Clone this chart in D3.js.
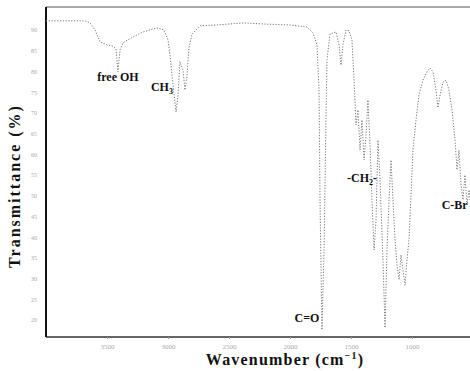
<!DOCTYPE html>
<html>
<head>
<meta charset="utf-8">
<script src="https://cdn.jsdelivr.net/npm/d3@7"></script>
<style>
  body { margin: 0; background: #fff; }
  svg { display: block; }
</style>
</head>
<body>
<svg id="chart" width="470" height="371"></svg>
<script>
// wavenumber (cm-1) and transmittance (%)
const wavenumbers = [4000, 3680, 3639, 3598, 3557, 3500, 3451, 3426, 3410, 3393, 3369, 3287, 3205, 3090,
    3033, 3000, 2984, 2959, 2934, 2918, 2902, 2877, 2861, 2844, 2828, 2803, 2738, 2598, 2385, 2188,
    2000, 1861, 1811, 1779, 1762, 1754, 1738, 1721, 1705, 1697, 1672, 1623, 1598, 1582, 1566, 1541,
    1516, 1492, 1475, 1459, 1443, 1426, 1410, 1393, 1377, 1361, 1344, 1328, 1311, 1295, 1279, 1262,
    1238, 1221, 1205, 1188, 1172, 1156, 1139, 1123, 1106, 1090, 1074, 1057, 1041, 1025, 1008, 992,
    967, 943, 910, 877, 852, 828, 803, 787, 770, 746, 721, 697, 672, 647, 631, 615, 598, 582, 566,
    549, 533, 525];
const transmittance = [92.2, 92.2, 91.7, 90.0, 87.1, 86.4, 86.1, 85.4, 79.9, 85.2, 86.9, 88.3, 89.5, 90.5,
    90.0, 87.6, 84.0, 76.7, 70.2, 74.3, 82.3, 80.3, 75.5, 79.1, 85.7, 89.0, 91.0, 91.2, 91.7, 91.4,
    91.2, 90.7, 89.3, 86.4, 75.5, 49.0, 17.6, 36.9, 68.3, 82.8, 89.0, 89.5, 86.4, 81.5, 86.4, 90.0,
    89.8, 87.6, 77.9, 67.1, 70.7, 61.0, 68.3, 58.6, 64.7, 73.1, 62.2, 49.0, 36.9, 44.1, 63.4, 53.8,
    34.5, 18.1, 36.9, 49.0, 58.6, 49.0, 39.3, 33.3, 29.7, 35.7, 32.1, 28.4, 34.5, 39.3, 50.2, 61.0,
    68.3, 74.3, 77.9, 79.9, 80.8, 79.9, 75.5, 71.2, 74.3, 77.4, 77.9, 75.5, 70.7, 63.4, 56.2, 61.0,
    52.6, 49.0, 55.0, 47.8, 51.4, 49.0];
const xTicks = [3500, 3000, 2500, 2000, 1500, 1000];
const yTicks = [20, 25, 30, 35, 40, 45, 50, 55, 60, 65, 70, 75, 80, 85, 90];
const bandLabels = [
    { text: 'free OH', w: 3410, t: 77.6 },
    { text: 'CH', sub: '3', w: 3050, t: 75.2 },
    { text: 'C=O', w: 1861, t: 19.6 },
    { text: '-CH', sub: '2', after: '-', w: 1410, t: 53.4 },
    { text: 'C-Br', w: 650, t: 46.7 }
];

const spectrum = wavenumbers.map((w, i) => ({ w: w, t: transmittance[i] }));

const svg = d3.select('#chart');
const plotLeft = 46, plotTop = 7, plotBottom = 337, plotRight = 470;

const x = d3.scaleLinear().domain([4000, 500]).range([plotLeft, plotLeft + 7 * 61]);
const y = d3.scaleLinear().domain([16.14, 92.4]).range([336, 20]);

const serif = '"Liberation Serif", "DejaVu Serif", serif';

// frame
svg.append('line')
    .attr('x1', plotLeft).attr('x2', plotRight).attr('y1', plotTop).attr('y2', plotTop)
    .attr('stroke', '#555').attr('stroke-width', 1.2);

// axes
const gx = svg.append('g').attr('transform', 'translate(0,' + plotBottom + ')')
    .call(d3.axisBottom(x).tickValues(xTicks).tickFormat(d3.format('d')).tickSize(2).tickPadding(5));
gx.select('.domain').attr('stroke', '#333').attr('stroke-width', 1.6)
    .attr('d', 'M' + plotLeft + ',0H' + plotRight);
gx.selectAll('.tick line').attr('stroke', '#999');
gx.selectAll('.tick text').attr('fill', '#aaa').attr('font-size', 7).attr('font-family', serif);

const gy = svg.append('g').attr('transform', 'translate(' + plotLeft + ',0)')
    .call(d3.axisLeft(y).tickValues(yTicks).tickSize(0).tickPadding(9));
gy.select('.domain').attr('stroke', '#111').attr('stroke-width', 2)
    .attr('d', 'M0,' + plotTop + 'V' + plotBottom);
gy.selectAll('.tick text').attr('fill', '#aaa').attr('font-size', 6).attr('font-family', serif);

// spectrum, drawn dotted like the scanned trace
const line = d3.line().x(d => x(d.w)).y(d => y(d.t));
svg.append('path')
    .datum(spectrum)
    .attr('d', line)
    .attr('fill', 'none')
    .attr('stroke', '#777')
    .attr('stroke-width', 1)
    .attr('stroke-dasharray', '1.2,1.6');

// band labels
bandLabels.forEach(b => {
    const txt = svg.append('text')
        .attr('x', x(b.w)).attr('y', y(b.t))
        .attr('text-anchor', 'middle')
        .attr('font-family', serif)
        .attr('font-weight', 'bold')
        .attr('font-size', 12)
        .attr('fill', '#111');
    txt.append('tspan').text(b.text);
    if (b.sub) {
        txt.append('tspan').attr('font-size', 8).attr('dy', 3).text(b.sub);
    }
    if (b.after) {
        txt.append('tspan').attr('dy', -3).text(b.after);
    }
});

// axis titles
svg.append('text')
    .attr('transform', 'translate(20,' + 186 + ') rotate(-90)')
    .attr('text-anchor', 'middle')
    .attr('font-family', serif)
    .attr('font-weight', 'bold')
    .attr('font-size', 16)
    .attr('letter-spacing', 2)
    .attr('fill', '#111')
    .text('Transmittance (%)');

const xt = svg.append('text')
    .attr('x', 285).attr('y', 365)
    .attr('text-anchor', 'middle')
    .attr('font-family', serif)
    .attr('font-weight', 'bold')
    .attr('font-size', 16)
    .attr('letter-spacing', 1.2)
    .attr('fill', '#111');
xt.append('tspan').text('Wavenumber (cm');
xt.append('tspan').attr('font-size', 10).attr('dy', -6).text('−1');
xt.append('tspan').attr('dy', 6).text(')');
</script>
</body>
</html>
